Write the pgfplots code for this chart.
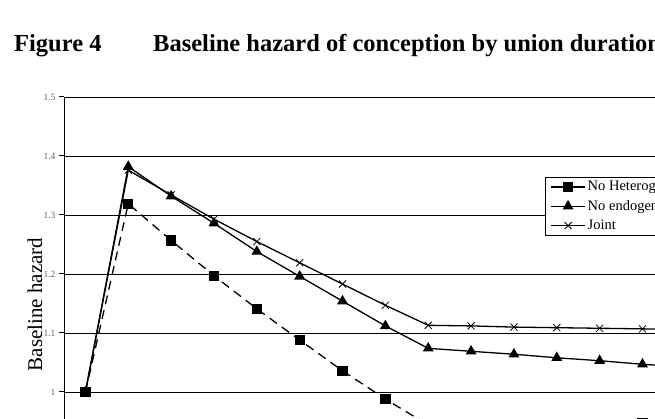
\documentclass[border=0pt]{standalone}
\usepackage{fontspec}
\setmainfont{Liberation Serif}
\usepackage{pgfplots}
\pgfplotsset{compat=1.18}
\begin{document}
\begin{tikzpicture}[x=1pt,y=1pt]
\useasboundingbox (0,0) rectangle (655,419);
\clip (0,0) rectangle (655,419);
\node[anchor=base west,inner sep=0pt,font=\fontsize{24.5}{29}\selectfont\bfseries] at (14,367) {Figure 4};
\node[anchor=base west,inner sep=0pt,font=\fontsize{24.5}{29}\selectfont\bfseries] at (153,367) {Baseline hazard of conception by union duration};
\node[rotate=90,anchor=base,inner sep=0pt,font=\fontsize{21}{25}\selectfont] at (42,114.5) {Baseline hazard};
\begin{axis}[
  at={(64pt,322pt)}, anchor=north west,
  scale only axis, width=857pt, height=413pt,
  xmin=-0.5, xmax=19.5, ymin=0.8, ymax=1.5,
  axis x line=bottom, axis y line=left,
  axis line style={-, line width=1pt, black},
  xtick=\empty,
  ytick={1,1.1,1.2,1.3,1.4,1.5},
  extra y ticks={0.8,0.9}, extra y tick labels={},
  tick align=outside, major tick length=5pt,
  ytick style={black, line width=1pt},
  ymajorgrids, grid style={black, line width=0.9pt},
  yticklabel style={font=\fontsize{9.5}{10}\selectfont, color=black!60},
  /pgf/number format/assume math mode=true,
  /pgf/number format/.cd, fixed, precision=1,
  /pgfplots/.cd,
  reverse legend,
  legend cell align=left,
  legend style={at={(0.5613,0.8063)}, anchor=north west, draw=black, line width=0.8pt,
    font=\fontsize{14.5}{16}\selectfont, inner xsep=5pt, inner ysep=3pt, row sep=6pt,
    nodes={inner xsep=2pt, inner ysep=1pt}},
  legend image code/.code={\draw[solid,mark repeat=2,mark phase=2] plot coordinates {(0pt,0pt) (17pt,0pt) (34pt,0pt)};},
]
\addplot[black, line width=1.3pt, mark=x, mark size=5pt, mark options={solid, line width=0.8pt}] coordinates {
(0,1.0) (1,1.376) (2,1.334) (3,1.293) (4,1.255) (5,1.219) (6,1.183) (7,1.147) (8,1.113) (9,1.112) (10,1.110) (11,1.109) (12,1.108) (13,1.107) (14,1.106)};
\addlegendentry{Joint}
\addplot[black, line width=1.3pt, mark=triangle*, mark size=5pt, mark options={solid}] coordinates {
(0,1.0) (1,1.382) (2,1.332) (3,1.286) (4,1.238) (5,1.196) (6,1.154) (7,1.112) (8,1.074) (9,1.069) (10,1.064) (11,1.058) (12,1.053) (13,1.047) (14,1.042)};
\addlegendentry{No endogeneity}
\addplot[black, line width=1.3pt, dash pattern=on 9pt off 6pt, mark=square*, mark size=4.5pt, mark options={solid}] coordinates {
(0,1.0) (1,1.319) (2,1.257) (3,1.197) (4,1.141) (5,1.088) (6,1.036) (7,0.988) (8,0.944) (9,0.943) (10,0.944) (11,0.945) (12,0.946) (13,0.948) (14,0.949)};
\addlegendentry{No Heterogeneity}
\end{axis}
\end{tikzpicture}
\end{document}
